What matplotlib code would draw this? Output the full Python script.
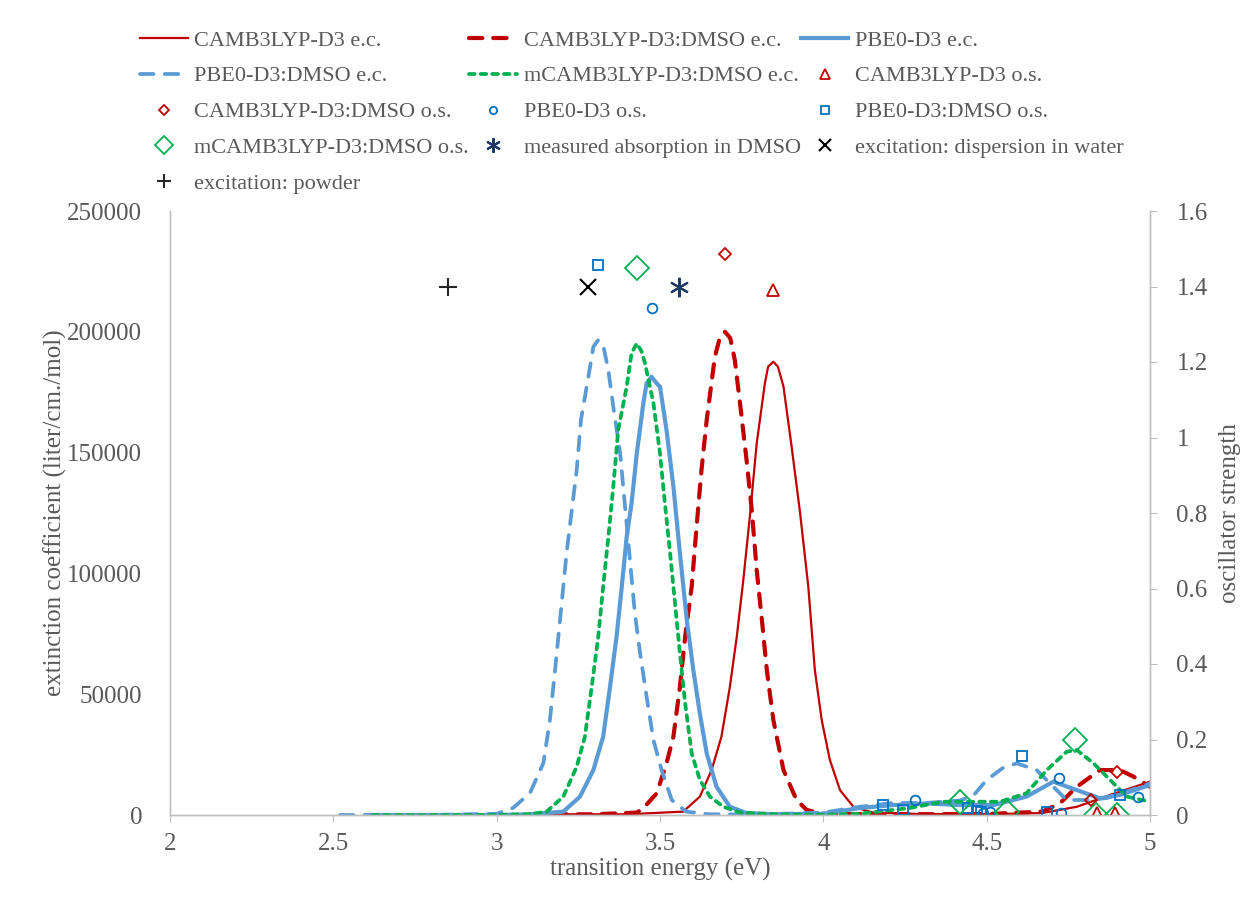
import matplotlib
matplotlib.use("Agg")
import matplotlib.pyplot as plt

plt.rcParams['font.family'] = ['Liberation Serif', 'DejaVu Serif']

# ---------------- data: extinction coefficient curves ----------------
cam_E = [3.1, 3.4, 3.571, 3.622, 3.658, 3.688, 3.714, 3.735, 3.755, 3.776, 3.796, 3.821, 3.831, 3.847,
         3.861, 3.878, 3.903, 3.929, 3.954, 3.974, 3.995, 4.020, 4.051, 4.092, 4.152, 4.3, 4.52, 4.67,
         4.776, 4.878, 5.0]
cam_eps = [300, 300, 1400, 7600, 18600, 32400, 53100, 73800, 97200, 124800, 153800, 178600, 185600, 187600,
           185600, 177300, 152400, 124800, 94500, 60000, 39300, 22800, 10300, 3400, 1000, 400, 400, 800,
           3400, 8300, 13800]

camd_E = [3.1, 3.3, 3.429, 3.449, 3.490, 3.520, 3.541, 3.561, 3.577, 3.597, 3.612, 3.627, 3.643,
          3.668, 3.684, 3.699, 3.715, 3.729, 3.745, 3.765, 3.781, 3.796, 3.812, 3.827, 3.847, 3.878,
          3.918, 3.949, 4.0, 4.2, 4.5, 4.67, 4.724, 4.776, 4.847, 4.908, 4.949, 5.0]
camd_eps = [200, 300, 1000, 2800, 9000, 21400, 32400, 53100, 73800, 94500, 119300, 142800, 163500,
            189700, 198000, 200000, 197400, 188300, 170400, 146900, 126200, 101400, 80700, 60000, 39300, 18600,
            6200, 2100, 500, 300, 400, 1400, 4800, 11700, 18600, 18600, 15900, 11700]

pbe_E = [2.6, 3.0, 3.1, 3.204, 3.255, 3.296, 3.326, 3.347, 3.367, 3.383, 3.398, 3.413, 3.429, 3.449,
         3.459, 3.474, 3.490, 3.500, 3.520, 3.541, 3.561, 3.582, 3.602, 3.622, 3.643, 3.673, 3.714,
         3.765, 3.85, 4.0, 4.112, 4.214, 4.316, 4.418, 4.520, 4.622, 4.704, 4.776, 4.847, 4.908, 5.0]
pbe_eps = [0, 0, 300, 1400, 7600, 18600, 32400, 53100, 73800, 94500, 115200, 129000, 149700, 170400,
           178600, 181400, 178600, 177300, 159300, 135900, 108300, 80700, 60000, 42000, 25500, 11700, 3400,
           800, 300, 500, 2900, 4100, 4800, 4100, 4100, 7600, 13800, 10300, 6900, 8300, 12400]

pbed_E = [2.52, 2.8, 3.0, 3.05, 3.102, 3.143, 3.163, 3.184, 3.199, 3.214, 3.230, 3.245, 3.258, 3.286,
          3.296, 3.311, 3.326, 3.342, 3.357, 3.378, 3.393, 3.408, 3.423, 3.439, 3.459, 3.480, 3.505,
          3.536, 3.58, 3.65, 3.8, 4.0, 4.112, 4.214, 4.316, 4.418, 4.459, 4.50, 4.55, 4.592, 4.653,
          4.704, 4.745, 4.806, 4.867, 4.928, 5.0]
pbed_eps = [0, 0, 500, 2900, 9100, 21500, 39300, 67000, 87700, 108400, 126200, 142800, 163500, 185600,
            193800, 196600, 194500, 184000, 169000, 149800, 127600, 105500, 83600, 67000, 49000, 31000, 18600,
            6200, 1400, 300, 200, 1000, 3400, 5000, 5000, 6000, 8000, 14500, 19500, 21400, 18600,
            11700, 6200, 6200, 7000, 9700, 13100]

mcam_E = [2.62, 3.0, 3.1, 3.153, 3.204, 3.245, 3.270, 3.291, 3.311, 3.326, 3.342, 3.357, 3.372, 3.398,
          3.413, 3.429, 3.444, 3.454, 3.480, 3.500, 3.515, 3.531, 3.546, 3.561, 3.577, 3.597, 3.622,
          3.653, 3.694, 3.745, 3.85, 4.0, 4.11, 4.265, 4.367, 4.469, 4.541, 4.622, 4.684, 4.745,
          4.776, 4.827, 4.878, 4.929, 5.0]
mcam_eps = [0, 0, 300, 1400, 7600, 20000, 32400, 53100, 73800, 94500, 115200, 135900, 159300, 177300,
            191200, 195200, 191800, 187000, 170400, 149700, 129000, 108300, 87600, 66900, 46200, 25500, 14500,
            7600, 3400, 1000, 300, 100, 500, 2900, 5500, 5500, 5500, 9000, 18600, 26200,
            26900, 21400, 14500, 7600, 5500]

# ---------------- data: oscillator strengths ----------------
cam_os_E = [3.846, 4.838, 4.893]
cam_os_f = [1.39, 0.006, 0.006]
camd_os_E = [3.699, 4.82, 4.90]
camd_os_f = [1.486, 0.04, 0.115]
pbe_os_E = [3.475, 4.281, 4.488, 4.51, 4.72, 4.728, 4.963]
pbe_os_f = [1.343, 0.04, 0.004, 0.007, 0.097, 0.006, 0.047]
pbed_os_E = [3.31, 4.184, 4.243, 4.444, 4.47, 4.483, 4.607, 4.684, 4.909]
pbed_os_f = [1.457, 0.026, 0.013, 0.018, 0.011, 0.009, 0.156, 0.009, 0.053]
mcam_os_E = [3.43, 4.418, 4.561, 4.77, 4.836, 4.898]
mcam_os_f = [1.449, 0.035, 0.009, 0.199, 0.0, 0.0]

meas_E = [3.558]
meas_f = [1.40]
water_E = [3.28]
water_f = [1.40]
powder_E = [2.85]
powder_f = [1.40]

x_ticks = [2, 2.5, 3, 3.5, 4, 4.5, 5]
x_ticklabels = ['2', '2.5', '3', '3.5', '4', '4.5', '5']
yl_ticks = [0, 50000, 100000, 150000, 200000, 250000]
yr_ticks = [0, 0.2, 0.4, 0.6, 0.8, 1, 1.2, 1.4, 1.6]
yr_ticklabels = ['0', '0.2', '0.4', '0.6', '0.8', '1', '1.2', '1.4', '1.6']

# ---------------- styles ----------------
RED = '#C00000'
BLUE = '#5B9BD5'
GREEN = '#00B050'
MBLUE = '#0070C0'
NAVY = '#203864'
GRAY = '#595959'
AXC = '#BFBFBF'

W, H = 1246, 909
fig = plt.figure(figsize=(W / 100, H / 100), dpi=100)
ax = fig.add_axes([170 / W, 1 - 815 / H, (1150 - 170) / W, (815 - 211) / H])
ax2 = ax.twinx()

l1, = ax.plot(cam_E, cam_eps, color=RED, lw=1.6, solid_joinstyle='round')
l2, = ax.plot(camd_E, camd_eps, color=RED, lw=3.0, linestyle=(0, (3.2, 2.6)), dash_capstyle='round')
l3, = ax.plot(pbe_E, pbe_eps, color=BLUE, lw=3.0, solid_joinstyle='round')
l4, = ax.plot(pbed_E, pbed_eps, color=BLUE, lw=2.7, linestyle=(0, (3.6, 3.0)), dash_capstyle='round')
l5, = ax.plot(mcam_E, mcam_eps, color=GREEN, lw=2.7, linestyle=(0, (1.5, 1.6)), dash_capstyle='round')

mk = dict(linestyle='none', markerfacecolor='none', markeredgewidth=1.3)
m1, = ax2.plot(cam_os_E, cam_os_f, marker='^', markersize=9, markeredgecolor=RED, **mk)
m2, = ax2.plot(camd_os_E, camd_os_f, marker='D', markersize=6.5, markeredgecolor=RED, **mk)
m3, = ax2.plot(pbe_os_E, pbe_os_f, marker='o', markersize=7, markeredgecolor=MBLUE, **mk)
m4, = ax2.plot(pbed_os_E, pbed_os_f, marker='s', markersize=7, markeredgecolor=MBLUE, **mk)
m5, = ax2.plot(mcam_os_E, mcam_os_f, marker='D', markersize=12, markeredgecolor=GREEN, **mk)
m6, = ax2.plot(meas_E, meas_f, marker=(6, 2, 0), markersize=14, color=NAVY, linestyle='none', markeredgewidth=1.5)
m7, = ax2.plot(water_E, water_f, marker='x', markersize=11, color='black', linestyle='none', markeredgewidth=1.5)
m8, = ax2.plot(powder_E, powder_f, marker='+', markersize=13, color='#262626', linestyle='none', markeredgewidth=1.5)

ax.set_xlim(2, 5)
ax.set_ylim(0, 250000)
ax2.set_ylim(0, 1.6)
ax.set_xticks(x_ticks)
ax.set_xticklabels(x_ticklabels)
ax.set_yticks(yl_ticks)
ax.set_yticklabels([str(v) for v in yl_ticks])
ax2.set_yticks(yr_ticks)
ax2.set_yticklabels(yr_ticklabels)

for a in (ax, ax2):
    a.spines['top'].set_visible(False)
    for s in ('left', 'right', 'bottom'):
        a.spines[s].set_color(AXC)
        a.spines[s].set_linewidth(1.0)
    a.set_facecolor('none')

ax.tick_params(axis='y', length=0, pad=20, labelsize=18, labelcolor=GRAY)
ax.tick_params(axis='x', length=5, color=AXC, direction='out', pad=8, labelsize=18, labelcolor=GRAY)
ax2.tick_params(axis='y', length=5, color=AXC, direction='out', pad=14, labelsize=18, labelcolor=GRAY)

ax.set_xlabel('transition energy (eV)', fontsize=18, color=GRAY, labelpad=2)
ax.set_ylabel('extinction coefficient (liter/cm./mol)', fontsize=18, color=GRAY, labelpad=0)
ax2.set_ylabel('oscillator strength', fontsize=18, color=GRAY, labelpad=8)

handles = [l1, l2, l3, l4, l5, m1, m2, m3, m4, m5, m6, m7, m8]
labels = ['CAMB3LYP-D3 e.c.', 'CAMB3LYP-D3:DMSO e.c.', 'PBE0-D3 e.c.',
          'PBE0-D3:DMSO e.c.', 'mCAMB3LYP-D3:DMSO e.c.', 'CAMB3LYP-D3 o.s.',
          'CAMB3LYP-D3:DMSO o.s.', 'PBE0-D3 o.s.', 'PBE0-D3:DMSO o.s.',
          'mCAMB3LYP-D3:DMSO o.s.', 'measured absorption in DMSO', 'excitation: dispersion in water',
          'excitation: powder']
# legend is read row by row; matplotlib fills columns, so reorder
order = [0, 3, 6, 9, 12, 1, 4, 7, 10, 2, 5, 8, 11]
leg = fig.legend([handles[i] for i in order], [labels[i] for i in order], ncol=3,
                 loc='upper left', bbox_to_anchor=(140 / W, 1 - 30 / H),
                 frameon=False, fontsize=16, handlelength=2.15, handletextpad=0.3,
                 columnspacing=0.0, labelspacing=0.69, borderpad=0, borderaxespad=0,
                 markerscale=0.75)
for t in leg.get_texts():
    t.set_color(GRAY)

fig.savefig('out.png', dpi=100)
